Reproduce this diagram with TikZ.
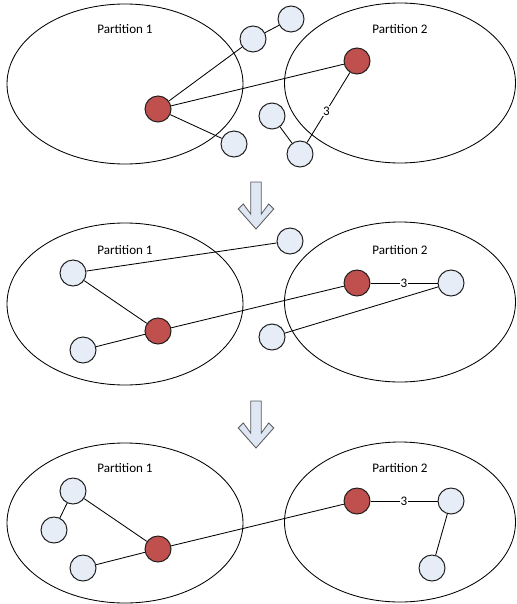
\documentclass[tikz,border=0pt]{standalone}
\usepackage{xcolor}
\usepackage{fontspec}
\setmainfont{Carlito}
\usepackage{tikz}
\definecolor{myred}{RGB}{192,80,77}
\definecolor{mylight}{RGB}{230,237,247}
\definecolor{mydark}{RGB}{30,30,30}
\definecolor{arrowfill}{RGB}{222,231,243}
\definecolor{arrowline}{RGB}{90,90,90}
\tikzset{
  redvert/.style={circle, draw=mydark, fill=myred, minimum size=0.65cm,
    inner sep=0pt, line width=0.7pt},
  bluevert/.style={circle, draw=mydark, fill=mylight, minimum size=0.65cm,
    inner sep=0pt, line width=0.7pt},
  part/.style={draw=black, line width=0.6pt},
  edge/.style={black, line width=0.6pt},
  weight/.style={fill=white, inner sep=0.6pt},
  downarrow/.style={draw=arrowline, fill=arrowfill, line width=0.6pt, line join=miter}
}
\newcommand{\stagearrow}[1]{%
  \draw[downarrow, shift={(256,#1)}] (-5.3,-47) -- (-5.3,-15) -- (-12.7,-25)
    -- (-17.7,-20) -- (0,0) -- (17.7,-20) -- (12.7,-25) -- (5.3,-15)
    -- (5.3,-47) -- cycle;}

\begin{document}
\begin{tikzpicture}[x=0.025cm, y=-0.025cm, font=\fontsize{9.3}{11}\selectfont]
  \useasboundingbox (0,0) rectangle (516,604);

  % Step 1
  \draw[part] (125,84) ellipse [x radius=118, y radius=80];
  \draw[part] (400,83) ellipse [x radius=115.5, y radius=80];
  \node (t11) at (125,29) {Partition 1};
  \node (t12) at (400,29) {Partition 2};
  \node[bluevert] (a1) at (253,39) {};
  \node[bluevert] (b1) at (291,19) {};
  \node[bluevert] (c1) at (234,144) {};
  \node[bluevert] (d1) at (272,116) {};
  \node[bluevert] (e1) at (300,154) {};
  \node[redvert] (p1) at (158,109) {};
  \node[redvert] (q1) at (357,61) {};
  \draw[edge] (p1) -- (a1);
  \draw[edge] (a1) -- (b1);
  \draw[edge] (p1) -- (q1);
  \draw[edge] (p1) -- (c1);
  \draw[edge] (d1) -- (e1);
  \draw[edge] (e1) -- node[weight, pos=0.45] (w1) {3} (q1);

  \stagearrow{229}

  % Step 2
  \draw[part] (125,304) ellipse [x radius=118, y radius=81];
  \draw[part] (400,302) ellipse [x radius=115.5, y radius=80];
  \node (t21) at (125,250) {Partition 1};
  \node (t22) at (400,250) {Partition 2};
  \node[bluevert] (a2) at (290,241) {};
  \node[bluevert] (b2) at (73,273) {};
  \node[bluevert] (c2) at (83,350) {};
  \node[bluevert] (d2) at (272,337) {};
  \node[bluevert] (e2) at (451,283) {};
  \node[redvert] (p2) at (158,331) {};
  \node[redvert] (q2) at (357,283) {};
  \draw[edge] (b2) -- (a2);
  \draw[edge] (b2) -- (p2);
  \draw[edge] (p2) -- (c2);
  \draw[edge] (p2) -- (q2);
  \draw[edge] (q2) -- node[weight] (w2) {3} (e2);
  \draw[edge] (d2) -- (e2);

  \stagearrow{448}

  % Step 3
  \draw[part] (125,523) ellipse [x radius=118, y radius=80];
  \draw[part] (400,522) ellipse [x radius=115.5, y radius=80];
  \node (t31) at (125,468) {Partition 1};
  \node (t32) at (400,468) {Partition 2};
  \node[bluevert] (b3) at (73,491) {};
  \node[bluevert] (f3) at (54,530) {};
  \node[bluevert] (c3) at (83,568) {};
  \node[bluevert] (e3) at (451,501) {};
  \node[bluevert] (g3) at (432,568) {};
  \node[redvert] (p3) at (158,549) {};
  \node[redvert] (q3) at (357,501) {};
  \draw[edge] (b3) -- (f3);
  \draw[edge] (b3) -- (p3);
  \draw[edge] (p3) -- (c3);
  \draw[edge] (p3) -- (q3);
  \draw[edge] (q3) -- node[weight] (w3) {3} (e3);
  \draw[edge] (e3) -- (g3);
\end{tikzpicture}
\end{document}
